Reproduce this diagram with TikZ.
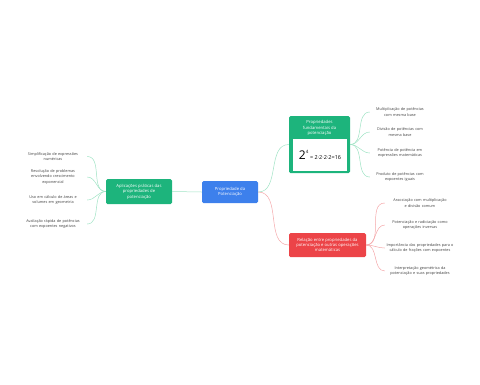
\documentclass[tikz,border=0pt]{standalone}
\usepackage{fontspec}
\setmainfont{Open Sans}
\usetikzlibrary{positioning}

\definecolor{mmblue}{HTML}{3D80EC}
\definecolor{mmgreen}{HTML}{1DB47C}
\definecolor{mmred}{HTML}{EC4448}
\definecolor{lnkgreen}{HTML}{9FE3C4}
\definecolor{lnkred}{HTML}{F4A7A9}

\begin{document}
\begin{tikzpicture}[x=1pt, y=-1pt, every node/.style={align=center, inner sep=1pt},
	topic/.style={rounded corners=1.5pt, text=white, font=\fontsize{4.2}{5.4}\selectfont},
	leaf/.style={text width=#1, text=black!75, font=\fontsize{3.8}{5.6}\selectfont},
	glink/.style={lnkgreen, line width=0.5pt},
	rlink/.style={lnkred, line width=0.5pt}]
	\useasboundingbox (0,0) rectangle (480,384);
	\node[topic, fill=mmblue, minimum width=56pt, minimum height=22pt] (root) at (230,192) {Propriedade da\\Potenciação};
	\node[topic, fill=mmgreen, minimum width=66pt, minimum height=25pt] (app) at (139,191.5) {Aplicações práticas das\\propriedades de\\potenciação};
	\node[topic, fill=mmgreen, minimum width=61pt, minimum height=57pt] (fund) at (319.5,144.5) {};
	\node[topic] (fundtitle) at (319.5,128) {Propriedades\\fundamentais da\\potenciação};
	\node[fill=white, minimum width=54pt, minimum height=32pt] (formula) at (320,155) {{\fontsize{12}{12}\selectfont 2}{\fontsize{4.5}{4.5}\selectfont\raisebox{6pt}{4}}\,{\fontsize{5.5}{5.5}\selectfont= 2·2·2·2=16}};
	\node[topic, fill=mmred, minimum width=77pt, minimum height=24pt] (rel) at (327.5,245) {Relação entre propriedades da\\potenciação e outras operações\\matemáticas};
	\draw[glink] (root.west) -- (app.east);
	\draw[glink] (root.east) to[out=0, in=180] (fund.west);
	\draw[rlink] (root.east) to[out=0, in=180] (rel.west);
	\foreach \name/\y/\txt in {l1/156.5/{Simplificação de expressões\\numéricas}, l2/177/{Resolução de problemas\\envolvendo crescimento\\exponencial}, l3/200/{Uso em cálculo de áreas e\\volumes em geometria}, l4/224/{Avaliação rápida de potências\\com expoentes negativos}} {
		\node[leaf=66pt] (\name) at (53,\y) {\txt};
		\draw[glink] (app.west) to[out=180, in=0] (\name.east);
	}
	\foreach \name/\y/\txt in {f1/112/{Multiplicação de potências\\com mesma base}, f2/132/{Divisão de potências com\\mesma base}, f3/153/{Potência de potência em\\expressões matemáticas}, f4/177/{Produto de potências com\\expoentes iguais}} {
		\node[leaf=58pt] (\name) at (400,\y) {\txt};
		\draw[glink] (fund.east) to[out=0, in=180] (\name.west);
	}
	\foreach \name/\y/\txt in {r1/203/{Associação com multiplicação\\e divisão comum}, r2/225/{Potenciação e radiciação como\\operações inversas}, r3/248/{Importância das propriedades para o\\cálculo de frações com expoentes}, r4/271/{Interpretação geométrica da\\potenciação e suas propriedades}} {
		\node[leaf=68pt] (\name) at (420,\y) {\txt};
		\draw[rlink] (rel.east) to[out=0, in=180] (\name.west);
	}
\end{tikzpicture}
\end{document}
